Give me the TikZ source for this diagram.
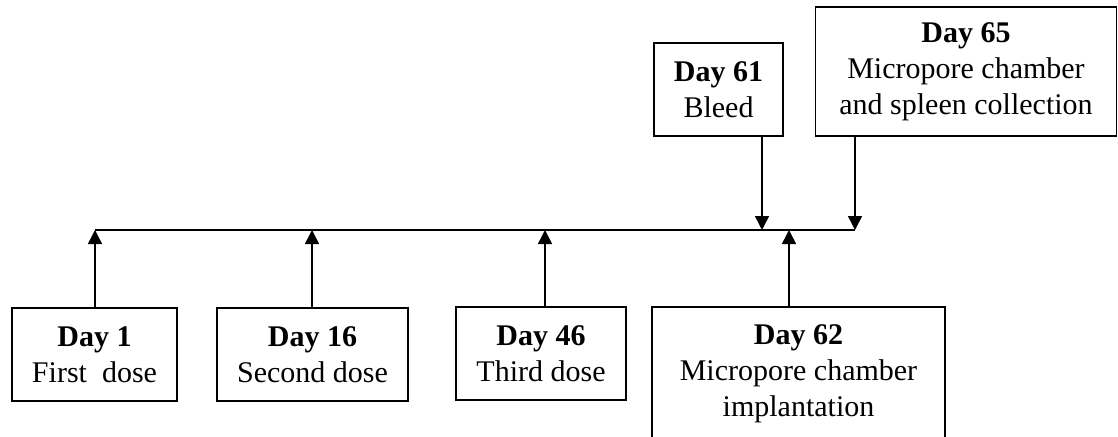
\documentclass[tikz,border=0pt]{standalone}
\usepackage{fontspec}
\setmainfont{Liberation Serif}
\usetikzlibrary{arrows.meta}

\tikzset{
  daybox/.style={draw, line width=1.5pt, align=center, inner sep=0pt,
    font=\fontsize{30}{36}\selectfont},
  pfeil/.style={line width=1.5pt, -{Triangle[length=14pt,width=14pt]}}
}

\begin{document}
\begin{tikzpicture}[x=1pt,y=1pt]
   \useasboundingbox (0,0) rectangle (1118,-436);

   %% Zeitachse
   \coordinate (t1)  at (95,-230);
   \coordinate (t16) at (312,-230);
   \coordinate (t46) at (545,-230);
   \coordinate (t61) at (762,-230);
   \coordinate (t62) at (789,-230);
   \coordinate (t65) at (855,-230);
   \draw[line width=1.5pt] (t1) -- (t65);

   %% Kaesten unten
   \node[daybox, minimum width=165, minimum height=93] (d1) at (94.5,-354.5)
     {\textbf{Day 1}\\First~ dose};
   \node[daybox, minimum width=191, minimum height=93] (d16) at (312.5,-354.5)
     {\textbf{Day 16}\\Second dose};
   \node[daybox, minimum width=170, minimum height=93] (d46) at (541,-353.5)
     {\textbf{Day 46}\\Third dose};
   \node[daybox, minimum width=293, minimum height=134, anchor=north] (d62) at (798.5,-306)
     {\textbf{Day 62}\\Micropore chamber\\implantation};

   %% Kaesten oben
   \node[daybox, minimum width=129, minimum height=93] (d61) at (718.5,-89.5)
     {\textbf{Day 61}\\Bleed};
   \node[daybox, minimum width=301, minimum height=129] (d65) at (966,-71.5)
     {\textbf{Day 65}\\Micropore chamber\\and spleen collection};

   %% Pfeile
   \draw[pfeil] (d1.north -| t1) -- (t1);
   \draw[pfeil] (d16.north -| t16) -- (t16);
   \draw[pfeil] (d46.north -| t46) -- (t46);
   \draw[pfeil] (d62.north -| t62) -- (t62);
   \draw[pfeil] (d61.south -| t61) -- (t61);
   \draw[pfeil] (d65.south -| t65) -- (t65);
\end{tikzpicture}
\end{document}
